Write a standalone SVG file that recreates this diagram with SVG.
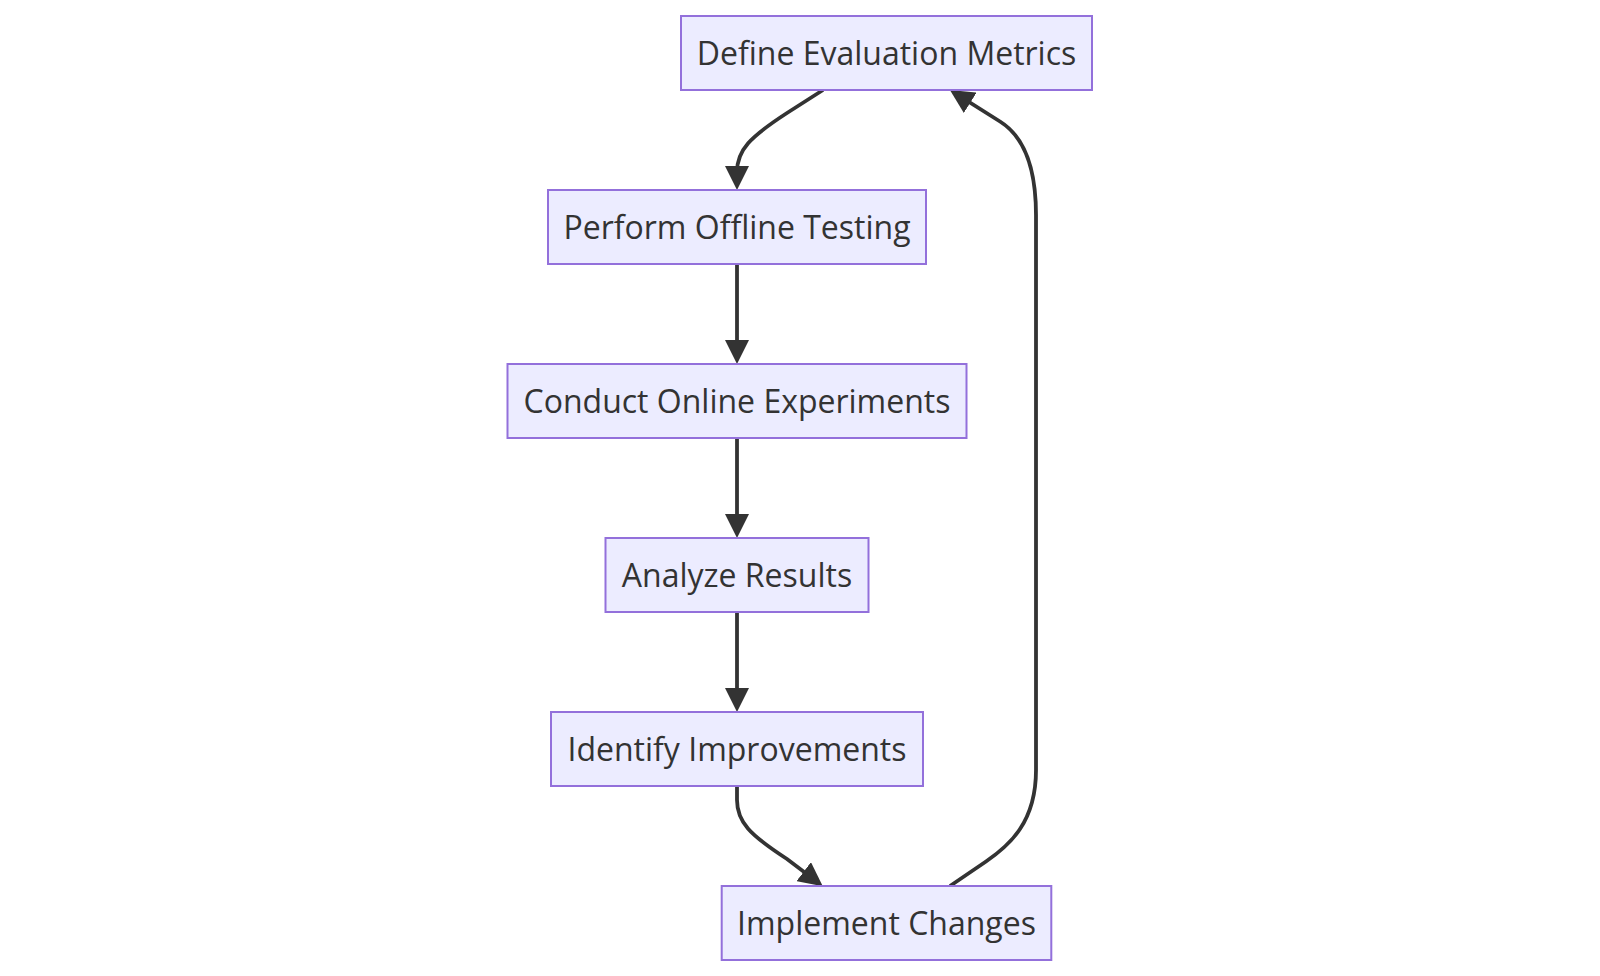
<svg xmlns="http://www.w3.org/2000/svg" width="1600" height="976" viewBox="0 0 1600 976">
<style>
.node rect{fill:#ECECFF;stroke:#9370DB;stroke-width:2}
.node text{font-family:"Open Sans","Noto Sans","Liberation Sans",sans-serif;font-size:32px;fill:#333333;text-anchor:middle}
.edge{fill:none;stroke:#333333;stroke-width:3.8}
</style>
<defs>
<marker id="arrow" viewBox="0 0 10 10" refX="7.5" refY="5" markerUnits="userSpaceOnUse" markerWidth="24" markerHeight="24" orient="auto">
<path d="M0,0 L10,5 L0,10 z" fill="#333333"/>
</marker>
</defs>
<rect width="1600" height="976" fill="#ffffff"/>
<g id="connectors">
<path class="edge" d="M823,90 L787,113 C750,137 737,150 737,172 L737,184" marker-end="url(#arrow)"/>
<path class="edge" d="M737,264 L737,358" marker-end="url(#arrow)"/>
<path class="edge" d="M737,438 L737,532" marker-end="url(#arrow)"/>
<path class="edge" d="M737,612 L737,706" marker-end="url(#arrow)"/>
<path class="edge" d="M737,786 L737,800 C737,822 750,835 787,859 L818,882.6" marker-end="url(#arrow)"/>
<path class="edge" d="M950,886 L986,861.5 C1010,845 1036,822 1036,770 L1036,215 C1036,160 1020,134 1000,121.5 L955,93.2" marker-end="url(#arrow)"/>
</g>
<g id="node-define" class="node">
<rect x="681" y="16" width="411" height="74"/>
<text x="886.5" y="65">Define Evaluation Metrics</text>
</g>
<g id="node-offline" class="node">
<rect x="548" y="190" width="378" height="74"/>
<text x="737" y="239">Perform Offline Testing</text>
</g>
<g id="node-online" class="node">
<rect x="507.5" y="364" width="459" height="74"/>
<text x="737" y="413">Conduct Online Experiments</text>
</g>
<g id="node-analyze" class="node">
<rect x="605.5" y="538" width="263" height="74"/>
<text x="737" y="587">Analyze Results</text>
</g>
<g id="node-identify" class="node">
<rect x="551" y="712" width="372" height="74"/>
<text x="737" y="761">Identify Improvements</text>
</g>
<g id="node-implement" class="node">
<rect x="721.7" y="886" width="329.6" height="74"/>
<text x="886.5" y="935">Implement Changes</text>
</g>
</svg>
